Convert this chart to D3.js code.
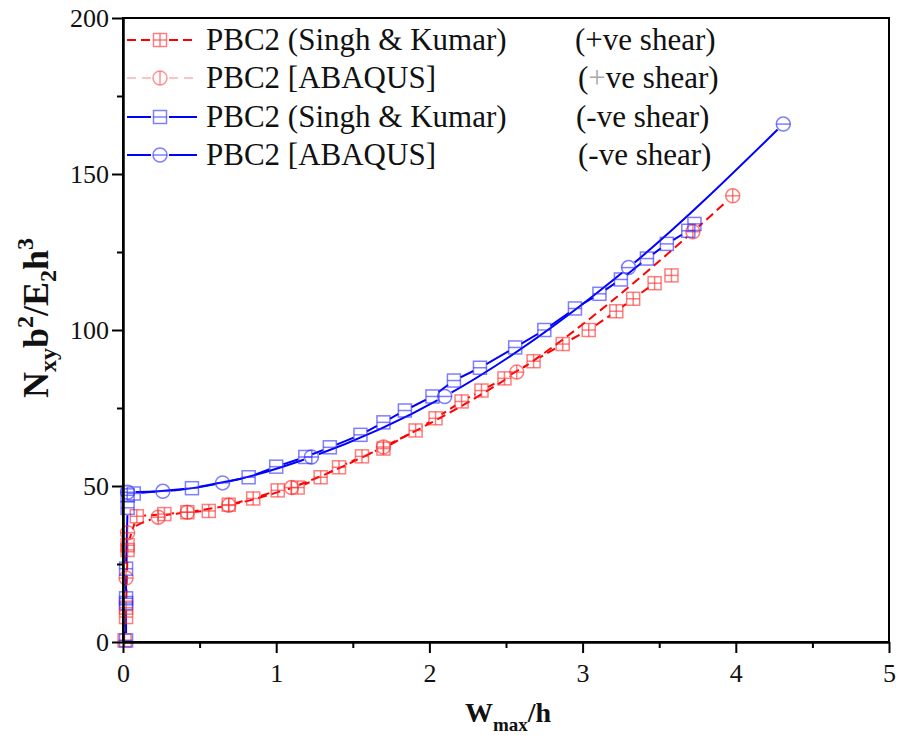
<!DOCTYPE html>
<html>
<head>
<meta charset="utf-8">
<script src="https://cdn.jsdelivr.net/npm/d3@7"></script>
<style>
  body { margin: 0; background: #fff; }
  svg { display: block; }
</style>
</head>
<body>
<svg id="chart" width="899" height="740"></svg>
<script>
// Singh & Kumar, positive shear (square with cross)
const skPosX = [0.01, 0.02, 0.02, 0.03, 0.03, 0.09, 0.27, 0.42, 0.56, 0.69, 0.85, 1.01, 1.14, 1.29, 1.41, 1.56, 1.70, 1.91, 2.04, 2.21, 2.34, 2.49, 2.68, 2.87, 3.04, 3.22, 3.33, 3.47, 3.58];
const skPosY = [0.5, 8.0, 11.0, 29.5, 31.0, 40.3, 41.0, 41.6, 42.0, 44.0, 46.0, 48.6, 49.5, 52.8, 56.0, 59.5, 62.0, 67.8, 71.7, 77.1, 80.6, 84.5, 90.0, 95.5, 100.0, 106.0, 110.0, 115.0, 117.5];

// ABAQUS, positive shear (circle with cross)
const abqPosX = [0.02, 0.03, 0.23, 0.42, 0.69, 1.10, 1.70, 2.57, 3.72, 3.98];
const abqPosY = [20.5, 35.0, 40.0, 41.6, 43.8, 49.5, 62.5, 86.5, 131.5, 143.0];

// Singh & Kumar, negative shear (square with bar)
const skNegX = [0.02, 0.02, 0.02, 0.02, 0.03, 0.03, 0.07, 0.45, 0.82, 1.00, 1.19, 1.35, 1.55, 1.70, 1.84, 2.02, 2.16, 2.33, 2.56, 2.75, 2.95, 3.11, 3.25, 3.42, 3.55, 3.69, 3.73];
const skNegY = [0.5, 12.5, 14.0, 23.5, 43.0, 47.0, 47.6, 49.3, 52.8, 56.2, 59.3, 62.4, 66.4, 70.4, 74.2, 78.7, 83.8, 87.9, 94.4, 100.0, 106.9, 111.6, 116.2, 122.9, 127.6, 131.8, 134.0];

// ABAQUS, negative shear (circle with bar)
const abqNegX = [0.03, 0.26, 0.65, 1.23, 2.10, 3.30, 4.31];
const abqNegY = [48.0, 48.3, 51.0, 59.3, 78.7, 120.0, 166.0];

const xTicks = [0, 1, 2, 3, 4, 5];
const xMinor = [0.5, 1.5, 2.5, 3.5, 4.5];
const yTicks = [0, 50, 100, 150, 200];
const yMinor = [25, 75, 125, 175];

const legendNames = ["PBC2 (Singh & Kumar)", "PBC2 [ABAQUS]", "PBC2 (Singh & Kumar)", "PBC2 [ABAQUS]"];
const legendShear = ["(+ve shear)", "(+ve shear)", "(-ve shear)", "(-ve shear)"];

const W = 899, H = 740;
const L = 123, R = 889, T = 18, B = 642;
const SERIF = '"Liberation Serif", "Times New Roman", serif';

const svg = d3.select("#chart");
const defs = svg.append("defs");

const x = d3.scaleLinear().domain([0, 5]).range([L, R]);
const y = d3.scaleLinear().domain([0, 200]).range([B, T]);

defs.append("clipPath").attr("id", "plotClip")
  .append("rect").attr("x", L).attr("y", T).attr("width", R - L).attr("height", B - T);

const zip = (xs, ys) => xs.map((v, i) => [v, ys[i]]);

const RED = "#ff0000", BLUE = "#0000ff";
const RED_M = "rgba(255,40,40,0.6)", BLUE_M = "rgba(40,40,255,0.6)";

// symbol drawers: each draws one marker into g at (cx, cy)
function square(g, cx, cy, col, inner) {
  const h = 6.5;
  g.append("rect").attr("x", cx - h).attr("y", cy - h).attr("width", 2 * h).attr("height", 2 * h)
    .attr("fill", "none").attr("stroke", col).attr("stroke-width", 1.5);
  if (inner.includes("h")) g.append("line").attr("x1", cx - h).attr("x2", cx + h).attr("y1", cy).attr("y2", cy)
    .attr("stroke", col).attr("stroke-width", 1.5);
  if (inner.includes("v")) g.append("line").attr("x1", cx).attr("x2", cx).attr("y1", cy - h).attr("y2", cy + h)
    .attr("stroke", col).attr("stroke-width", 1.5);
}
function circle(g, cx, cy, col, inner) {
  const r = 7;
  g.append("circle").attr("cx", cx).attr("cy", cy).attr("r", r)
    .attr("fill", "none").attr("stroke", col).attr("stroke-width", 1.5);
  if (inner.includes("h")) g.append("line").attr("x1", cx - r).attr("x2", cx + r).attr("y1", cy).attr("y2", cy)
    .attr("stroke", col).attr("stroke-width", 1.5);
  if (inner.includes("v")) g.append("line").attr("x1", cx).attr("x2", cx).attr("y1", cy - r).attr("y2", cy + r)
    .attr("stroke", col).attr("stroke-width", 1.5);
}

const series = [
  { id: "skPos", pts: zip(skPosX, skPosY), color: RED, mcol: RED_M, dash: "9,5", curve: d3.curveLinear, sym: square, inner: "hv", gap: 7.5 },
  { id: "abqPos", pts: zip(abqPosX, abqPosY), color: RED, mcol: RED_M, dash: "9,5", curve: d3.curveMonotoneX, sym: circle, inner: "hv", gap: 8 },
  { id: "skNeg", pts: zip(skNegX, skNegY), color: BLUE, mcol: BLUE_M, dash: null, curve: d3.curveLinear, sym: square, inner: "h", gap: 7.5 },
  { id: "abqNeg", pts: zip(abqNegX, abqNegY), color: BLUE, mcol: BLUE_M, dash: null, curve: d3.curveMonotoneX, sym: circle, inner: "h", gap: 8 }
];

// lines are broken around their own symbols
series.forEach(s => {
  const m = defs.append("mask").attr("id", "gap-" + s.id)
    .attr("maskUnits", "userSpaceOnUse").attr("x", 0).attr("y", 0).attr("width", W).attr("height", H);
  m.append("rect").attr("width", W).attr("height", H).attr("fill", "#fff");
  m.selectAll("circle").data(s.pts).join("circle")
    .attr("cx", d => x(d[0])).attr("cy", d => y(d[1])).attr("r", s.gap).attr("fill", "#000");
});

const plot = svg.append("g").attr("clip-path", "url(#plotClip)");

series.forEach(s => {
  const line = d3.line().x(d => x(d[0])).y(d => y(d[1])).curve(s.curve);
  plot.append("g").attr("mask", "url(#gap-" + s.id + ")")
    .append("path").attr("d", line(s.pts))
    .attr("fill", "none").attr("stroke", s.color).attr("stroke-width", 2)
    .attr("stroke-dasharray", s.dash);
});

series.forEach(s => {
  const g = svg.append("g");
  s.pts.forEach(d => s.sym(g, x(d[0]), y(d[1]), s.mcol, s.inner));
});

// frame
svg.append("rect").attr("x", L).attr("y", T).attr("width", R - L).attr("height", B - T)
  .attr("fill", "none").attr("stroke", "#000").attr("stroke-width", 2);

// axes
const xAxis = svg.append("g").attr("transform", `translate(0,${B})`)
  .call(d3.axisBottom(x).tickValues(xTicks).tickFormat(d3.format("d")).tickSize(11).tickSizeOuter(0).tickPadding(11));
xAxis.select(".domain").attr("stroke-width", 2.5);
xAxis.selectAll(".tick line").attr("stroke-width", 2);
xAxis.selectAll(".tick text").style("font-family", SERIF).style("font-size", "26px").attr("fill", "#111");
svg.append("g").attr("transform", `translate(0,${B})`)
  .call(d3.axisBottom(x).tickValues(xMinor).tickFormat("").tickSize(6).tickSizeOuter(0))
  .call(g => g.select(".domain").remove())
  .selectAll(".tick line").attr("stroke-width", 2);

const yAxis = svg.append("g").attr("transform", `translate(${L},0)`)
  .call(d3.axisLeft(y).tickValues(yTicks).tickFormat(d3.format("d")).tickSize(11).tickSizeOuter(0).tickPadding(3));
yAxis.select(".domain").attr("stroke-width", 2.5);
yAxis.selectAll(".tick line").attr("stroke-width", 2);
yAxis.selectAll(".tick text").style("font-family", SERIF).style("font-size", "26px").attr("fill", "#111");
svg.append("g").attr("transform", `translate(${L},0)`)
  .call(d3.axisLeft(y).tickValues(yMinor).tickFormat("").tickSize(6).tickSizeOuter(0))
  .call(g => g.select(".domain").remove())
  .selectAll(".tick line").attr("stroke-width", 2);

// axis titles
const xt = svg.append("text").attr("x", 508).attr("y", 722).attr("text-anchor", "middle")
  .style("font-family", SERIF).attr("font-weight", "bold").attr("font-size", 28).attr("fill", "#111");
xt.append("tspan").text("W");
xt.append("tspan").attr("font-size", 19).attr("dy", 9).text("max");
xt.append("tspan").attr("dy", -9).text("/h");

const yt = svg.append("text").attr("transform", "translate(48,318) rotate(-90)").attr("text-anchor", "middle")
  .style("font-family", SERIF).attr("font-weight", "bold").attr("font-size", 36).attr("fill", "#111");
yt.append("tspan").text("N");
yt.append("tspan").attr("font-size", 24).attr("dy", 8).text("xy");
yt.append("tspan").attr("dy", -8).text("b");
yt.append("tspan").attr("font-size", 24).attr("dy", -15).text("2");
yt.append("tspan").attr("dy", 15).text("/E");
yt.append("tspan").attr("font-size", 24).attr("dy", 8).text("2");
yt.append("tspan").attr("dy", -8).text("h");
yt.append("tspan").attr("font-size", 24).attr("dy", -15).text("3");

// legend
const legendRowsY = [40, 78, 117, 155];
const legendStyle = [
  { stroke: RED, width: 2, dash: "9,5", sym: square, inner: "hv", mcol: RED_M },
  { stroke: "#f6b4b4", width: 1.3, dash: "9,6", sym: circle, inner: "v", mcol: "rgba(255,60,60,0.55)" },
  { stroke: BLUE, width: 2, dash: null, sym: square, inner: "h", mcol: BLUE_M },
  { stroke: BLUE, width: 2, dash: null, sym: circle, inner: "h", mcol: BLUE_M }
];
const leg = svg.append("g");
legendRowsY.forEach((ly, i) => {
  const st = legendStyle[i];
  const seg = [[127, 151], [169, 197]];
  seg.forEach(([a, b]) => leg.append("line").attr("x1", a).attr("x2", b).attr("y1", ly).attr("y2", ly)
    .attr("stroke", st.stroke).attr("stroke-width", st.width).attr("stroke-dasharray", st.dash));
  st.sym(leg, 160, ly, st.mcol, st.inner);
  leg.append("text").attr("x", 206).attr("y", ly + 10)
    .style("font-family", SERIF).attr("font-size", 31).attr("fill", "#111").text(legendNames[i]);
  const sx = [575, 578, 576, 578][i];
  const t = leg.append("text").attr("x", sx).attr("y", ly + 10)
    .style("font-family", SERIF).attr("font-size", 31).attr("fill", "#111");
  if (i === 1) {
    t.append("tspan").text("(");
    t.append("tspan").attr("fill", "#aaa").text("+");
    t.append("tspan").text(legendShear[i].slice(2));
  } else {
    t.text(legendShear[i]);
  }
});
</script>
</body>
</html>
